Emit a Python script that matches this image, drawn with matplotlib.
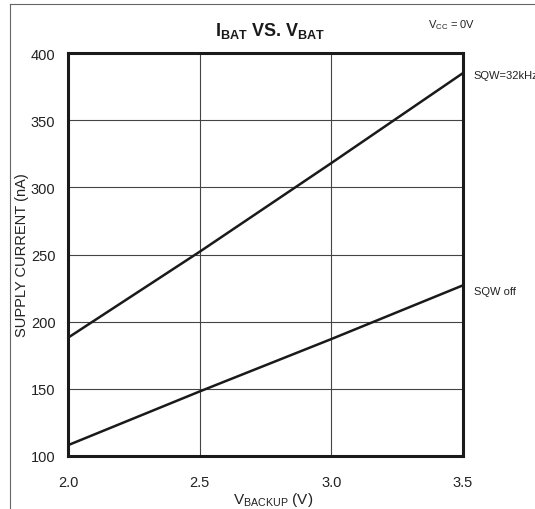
import matplotlib.pyplot as plt
from matplotlib.lines import Line2D

# data
v_backup = [2.0, 2.5, 3.0, 3.5]
i_sqw_on = [188, 252, 318, 385]
i_sqw_off = [108, 148, 187, 227]

x_ticks = [2.0, 2.5, 3.0, 3.5]
x_ticklabels = ['2.0', '2.5', '3.0', '3.5']
y_ticks = [100, 150, 200, 250, 300, 350, 400]

FONT = ['Liberation Sans', 'DejaVu Sans']
plt.rcParams['font.family'] = FONT
plt.rcParams['mathtext.default'] = 'regular'

fig = plt.figure(figsize=(5.35, 5.10), dpi=100)
ax = fig.add_axes([0.127, 0.104, 0.738, 0.790])

ax.plot(v_backup, i_sqw_on, color='#1a1a1a', lw=1.8)
ax.plot(v_backup, i_sqw_off, color='#1a1a1a', lw=1.8)

ax.set_xlim(2.0, 3.5)
ax.set_ylim(100, 400)
ax.set_xticks(x_ticks)
ax.set_xticklabels(x_ticklabels)
ax.set_yticks(y_ticks)
ax.tick_params(length=0, labelsize=10.5, colors='#222222')
ax.tick_params(axis='x', pad=14)
ax.tick_params(axis='y', pad=9)
ax.grid(True, color='#444444', lw=0.8)
for s in ax.spines.values():
    s.set_linewidth(2.2)
    s.set_color('#1a1a1a')

ax.set_ylabel('SUPPLY CURRENT (nA)', fontsize=10.5, color='#222222')
ax.yaxis.set_label_coords(-0.098, 0.5)
ax.set_xlabel('$V_{BACKUP}$ (V)', fontsize=11, color='#222222')
ax.xaxis.set_label_coords(0.52, -0.085)

ax.annotate('SQW=32kHz', xy=(3.5, i_sqw_on[-1]), xytext=(8, -1),
            textcoords='offset points', fontsize=8, va='center',
            annotation_clip=False, color='#222222')
ax.annotate('SQW off', xy=(3.5, i_sqw_off[-1]), xytext=(8, -4),
            textcoords='offset points', fontsize=8, va='center',
            annotation_clip=False, color='#222222')

fig.text(0.505, 0.94, r'$I_{BAT}$ VS. $V_{BAT}$', ha='center', va='center',
         fontsize=13, fontweight='bold', color='#1a1a1a')
fig.text(0.80, 0.95, r'$V_{CC}$ = 0V', ha='left', va='center',
         fontsize=8, color='#222222')

# scanned page frame
fig.add_artist(Line2D([0.019, 0.019], [0.0, 0.99], color='#666666', lw=0.8))
fig.add_artist(Line2D([0.019, 1.0], [0.99, 0.99], color='#666666', lw=0.8))

fig.savefig('out.png', dpi=100)
